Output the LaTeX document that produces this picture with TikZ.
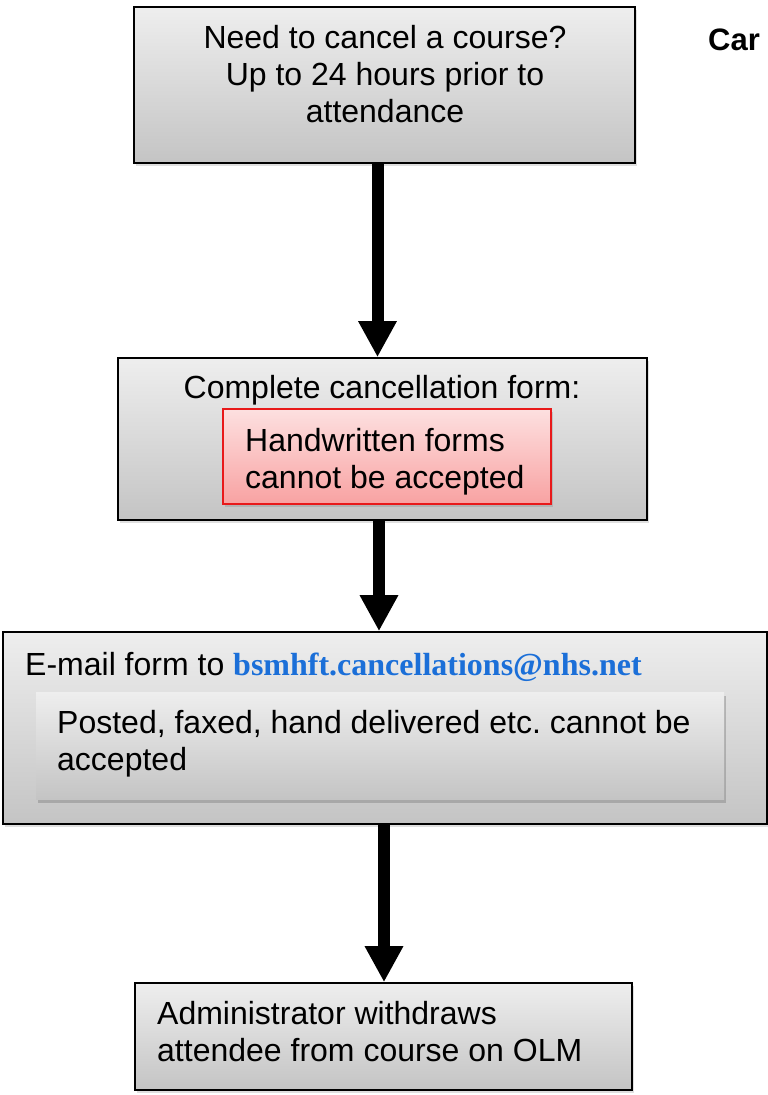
\documentclass[tikz,border=0pt]{standalone}
\usepackage{fontspec}
\setmainfont{Liberation Sans}
\newfontfamily\mailfont{Liberation Serif}
\usetikzlibrary{arrows.meta,shadows}
\definecolor{boxtop}{HTML}{EEEEEE}
\definecolor{boxbot}{HTML}{C4C4C4}
\definecolor{warntop}{HTML}{FDE0E0}
\definecolor{warnbot}{HTML}{F8A2A2}
\definecolor{warnline}{HTML}{E8191A}
\definecolor{mailblue}{HTML}{1B6FD8}
\frenchspacing
\tikzset{
  stepbox/.style={draw=black, line width=1.6pt, top color=boxtop, bottom color=boxbot,
    inner sep=0pt, drop shadow={shadow xshift=2pt, shadow yshift=-2.5pt, opacity=0.25}},
  warnbox/.style={draw=warnline, line width=1.6pt, top color=warntop, bottom color=warnbot,
    inner sep=0pt, drop shadow={shadow xshift=2pt, shadow yshift=-2.5pt, opacity=0.3}},
  notebox/.style={top color=boxtop, bottom color=boxbot, inner sep=0pt,
    drop shadow={shadow xshift=2pt, shadow yshift=-3.5pt, opacity=0.45}},
  txt/.style={font=\fontsize{32}{37}\selectfont, inner sep=0pt},
  flow/.style={line width=12pt, -{Triangle[length=36pt,width=36pt]}},
}
\begin{document}
\begin{tikzpicture}[x=1pt, y=-1pt]
\useasboundingbox (0,0) rectangle (768,1095);

% start box
\node[stepbox, minimum width=501pt, minimum height=156pt] (b1) at (384.5,85) {};
\node[txt, align=center] (t1) at (385,74)
  {Need to cancel a course?\\Up to 24 hours prior to\\attendance};

% heading, running off the page edge
\node[font=\fontsize{31}{36}\selectfont\bfseries, anchor=base west, inner sep=0pt] (title) at (708,50) {Car};

% form box with warning
\node[stepbox, minimum width=529pt, minimum height=162pt] (b2) at (382.5,439) {};
\node[txt, anchor=base] (t2) at (382,398) {Complete cancellation form:};
\node[warnbox, minimum width=328pt, minimum height=95pt] (w2) at (387,456.5) {};
\node[txt, align=left, anchor=west] (tw) at (245,462)
  {Handwritten forms\\cannot be accepted};

% e-mail box with note
\node[stepbox, minimum width=764pt, minimum height=192pt] (b3) at (385,728) {};
\node[txt, anchor=base west] (t3) at (25,675)
  {E-mail form to {\mailfont\bfseries\color{mailblue}bsmhft.cancellations@nhs.net}};
\node[notebox, minimum width=688pt, minimum height=107pt] (n3) at (380,745.5) {};
\node[txt, align=left, anchor=west] (tn) at (57,744)
  {Posted, faxed, hand delivered etc. cannot be\\accepted};

% final box
\node[stepbox, minimum width=497pt, minimum height=107pt] (b4) at (383.5,1036.5) {};
\node[txt, align=left, anchor=west] (t4) at (157,1032)
  {Administrator withdraws\\attendee from course on OLM};

% connectors
\draw[flow] ([xshift=-7pt]b1.south) -- ([xshift=-5pt]b2.north);
\draw[flow] ([xshift=-3.5pt]b2.south) -- ([xshift=-6pt]b3.north);
\draw[flow] ([xshift=-1pt]b3.south) -- ([xshift=0.5pt]b4.north);
\end{tikzpicture}
\end{document}
